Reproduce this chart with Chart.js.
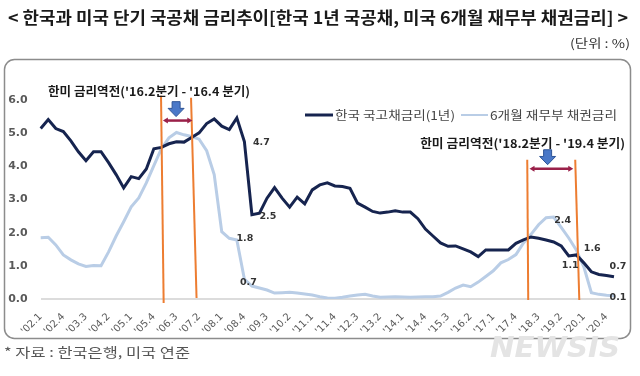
<!DOCTYPE html>
<html>
<head>
<meta charset="utf-8">
<script src="https://cdn.jsdelivr.net/npm/chart.js@4.4.1/dist/chart.umd.min.js"></script>
<style>
  body { margin: 0; background: #fff; }
</style>
</head>
<body>
<canvas id="myChart" width="640" height="376"></canvas>
<script>
// quarters from '02.1 to '21.1
const quarters = [];
for (let y = 2; y <= 21; y++) {
    for (let q = 1; q <= 4; q++) quarters.push("'" + String(y).padStart(2, '0') + '.' + q);
}
quarters.length = 77;

// 한국 국고채금리(1년)
const koreaRate = [
    5.14, 5.41, 5.14, 5.05, 4.77, 4.44, 4.17, 4.44, 4.44, 4.11,
    3.75, 3.35, 3.69, 3.63, 3.92, 4.53, 4.57, 4.68, 4.74, 4.73,
    4.87, 5.01, 5.29, 5.43, 5.21, 5.11, 5.46, 4.75, 2.54, 2.59,
    3.04, 3.36, 3.04, 2.77, 3.07, 2.87, 3.29, 3.44, 3.50, 3.41,
    3.39, 3.34, 2.89, 2.77, 2.64, 2.59, 2.62, 2.66, 2.62, 2.62,
    2.42, 2.11, 1.90, 1.69, 1.59, 1.60, 1.51, 1.42, 1.28, 1.48,
    1.48, 1.48, 1.48, 1.68, 1.78, 1.87, 1.83, 1.78, 1.72, 1.60,
    1.30, 1.33, 1.09, 0.82, 0.74, 0.71, 0.67
];

// 6개월 재무부 채권금리
const usRate = [
    1.85, 1.86, 1.63, 1.33, 1.18, 1.06, 0.98, 1.01, 1.00, 1.42,
    1.90, 2.33, 2.78, 3.05, 3.50, 4.02, 4.53, 4.86, 5.02, 4.95,
    4.90, 4.82, 4.47, 3.75, 2.03, 1.83, 1.78, 0.60, 0.39, 0.33,
    0.27, 0.18, 0.19, 0.20, 0.18, 0.15, 0.12, 0.07, 0.03, 0.02,
    0.05, 0.09, 0.12, 0.14, 0.09, 0.05, 0.06, 0.07, 0.06, 0.05,
    0.06, 0.07, 0.07, 0.09, 0.20, 0.33, 0.42, 0.37, 0.51, 0.68,
    0.85, 1.09, 1.19, 1.34, 1.69, 1.95, 2.24, 2.45, 2.47, 2.16,
    1.84, 1.48, 0.97, 0.19, 0.14, 0.11, 0.10
];

const seriesNames = ['한국 국고채금리(1년)', '6개월 재무부 채권금리'];

// value labels: [series, quarter index, text]
const valueLabels = [
    [0, 27, '4.7'], [0, 28, '2.5'], [1, 26, '1.8'], [1, 27, '0.7'],
    [1, 68, '2.4'], [1, 71, '1.6'], [0, 71, '1.1'], [0, 76, '0.7'], [1, 76, '0.1']
];

// inversion periods
const inversionTexts = ["한미 금리역전('16.2분기 - '16.4 분기)", "한미 금리역전('18.2분기 - '19.4 분기)"];

const titleText = '< 한국과 미국 단기 국공채 금리추이[한국 1년 국공채, 미국 6개월 재무부 채권금리] >';
const unitText = '(단위 : %)';
const sourceText = '* 자료 : 한국은행, 미국 연준';

const navy = '#16244f';
const lightBlue = '#b9cde6';
const orange = '#ed7d31';

function fitText(c, text, x, y, w) {
    const m = c.measureText(text).width;
    c.save();
    c.translate(x, y);
    c.scale(w / m, 1);
    c.textAlign = 'left';
    c.fillText(text, 0, 0);
    c.restore();
}

function xAt(chart, i) {
    const s = chart.scales.x;
    const p0 = s.getPixelForValue(0), p1 = s.getPixelForValue(quarters.length - 1);
    return p0 + (p1 - p0) * i / (quarters.length - 1);
}
function yAt(chart, v) {
    return chart.scales.y.getPixelForValue(v);
}

function hArrow(c, x1, x2, y) {
    c.strokeStyle = '#9a2049';
    c.fillStyle = '#9a2049';
    c.lineWidth = 2.5;
    c.beginPath(); c.moveTo(x1 + 3, y); c.lineTo(x2 - 3, y); c.stroke();
    c.beginPath(); c.moveTo(x1, y); c.lineTo(x1 + 5, y - 3); c.lineTo(x1 + 5, y + 3); c.closePath(); c.fill();
    c.beginPath(); c.moveTo(x2, y); c.lineTo(x2 - 5, y - 3); c.lineTo(x2 - 5, y + 3); c.closePath(); c.fill();
}

function downArrow(c, cx, top, bottom) {
    const h = bottom - top;
    c.fillStyle = '#4a78c8';
    c.strokeStyle = '#2f5597';
    c.lineWidth = 1;
    c.beginPath();
    c.moveTo(cx - 4, top);
    c.lineTo(cx + 4, top);
    c.lineTo(cx + 4, top + h * 0.45);
    c.lineTo(cx + 8, top + h * 0.45);
    c.lineTo(cx, bottom);
    c.lineTo(cx - 8, top + h * 0.45);
    c.lineTo(cx - 4, top + h * 0.45);
    c.closePath();
    c.fill();
    c.stroke();
}

const decor = {
    id: 'decor',
    beforeDraw(chart) {
        const c = chart.ctx;
        c.save();
        c.fillStyle = '#fff';
        c.fillRect(0, 0, chart.width, chart.height);
        c.strokeStyle = '#8c8c8c';
        c.lineWidth = 1.5;
        c.beginPath();
        c.roundRect(4.5, 59.5, 626, 279, 10);
        c.stroke();

        c.textBaseline = 'middle';
        c.fillStyle = '#1a1a1a';
        c.font = 'bold 17px "Noto Sans CJK KR"';
        fitText(c, titleText, 8, 18, 620);
        c.fillStyle = '#333';
        c.font = '12px "Noto Sans CJK KR"';
        fitText(c, unitText, 570, 43, 60);
        c.fillStyle = '#555';
        c.font = '13px "Noto Sans CJK KR"';
        fitText(c, sourceText, 4, 352, 186);
        c.fillStyle = '#e4e4e4';
        c.font = 'italic bold 28px "DejaVu Sans"';
        fitText(c, 'NEWSIS', 490, 350, 130);
        c.restore();
    },
    afterDatasetsDraw(chart) {
        const c = chart.ctx;
        c.save();

        // inversion boundaries
        const vlines = [
            [15.95, 6.13, 16.3, -0.12], [19.93, 6.07, 20.66, 0.03],
            [64.5, 4.2, 64.63, -0.03], [70.86, 4.2, 71.4, -0.03]
        ];
        c.strokeStyle = orange;
        c.lineWidth = 2;
        vlines.forEach(([i1, v1, i2, v2]) => {
            c.beginPath();
            c.moveTo(xAt(chart, i1), yAt(chart, v1));
            c.lineTo(xAt(chart, i2), yAt(chart, v2));
            c.stroke();
        });

        hArrow(c, xAt(chart, 16.2), xAt(chart, 20.1), yAt(chart, 5.38));
        hArrow(c, xAt(chart, 64.8), xAt(chart, 70.6), yAt(chart, 3.93));
        downArrow(c, xAt(chart, 17.95), yAt(chart, 5.95), yAt(chart, 5.5));
        downArrow(c, xAt(chart, 67.2), yAt(chart, 4.5), yAt(chart, 4.05));

        c.textBaseline = 'middle';
        c.fillStyle = '#1a1a1a';
        c.font = 'bold 12px "Noto Sans CJK KR"';
        fitText(c, inversionTexts[0], xAt(chart, 0.97), yAt(chart, 6.25), 202);
        fitText(c, inversionTexts[1], xAt(chart, 50.3), yAt(chart, 4.7), 205);

        // legend
        c.lineWidth = 3;
        c.strokeStyle = navy;
        c.beginPath(); c.moveTo(305, 115); c.lineTo(333, 115); c.stroke();
        c.strokeStyle = lightBlue;
        c.lineWidth = 2;
        c.beginPath(); c.moveTo(461, 115); c.lineTo(488, 115); c.stroke();
        c.fillStyle = '#444';
        c.font = '12px "Noto Sans CJK KR"';
        fitText(c, seriesNames[0], 335, 115, 120);
        fitText(c, seriesNames[1], 490, 115, 127);

        // value labels
        const offs = [[17, 1], [16, 2], [8, -1], [4, 3], [9, 3], [16, -1], [-6, 11], [4, -10], [4, 2]];
        c.fillStyle = '#333';
        c.font = 'bold 9.5px "DejaVu Sans"';
        c.textAlign = 'center';
        valueLabels.forEach(([s, i, t], k) => {
            const meta = chart.getDatasetMeta(s).data[i];
            c.fillText(t, meta.x + offs[k][0], meta.y + offs[k][1]);
        });
        c.restore();
    }
};

window.addEventListener('load', () => {
    const ctx = document.getElementById('myChart').getContext('2d');
    new Chart(ctx, {
        type: 'line',
        data: {
            labels: quarters,
            datasets: [
                { label: seriesNames[0], data: koreaRate, borderColor: navy, borderWidth: 3, pointRadius: 0, tension: 0 },
                { label: seriesNames[1], data: usRate, borderColor: lightBlue, borderWidth: 3, pointRadius: 0, tension: 0 }
            ]
        },
        options: {
            responsive: false,
            animation: false,
            layout: { padding: { left: 5, right: 26, top: 100, bottom: 37 } },
            plugins: { legend: { display: false }, tooltip: { enabled: false } },
            scales: {
                x: {
                    grid: { display: false },
                    border: { display: false },
                    ticks: {
                        autoSkip: false,
                        minRotation: 45,
                        maxRotation: 45,
                        padding: 4,
                        color: '#595959',
                        font: { family: 'DejaVu Sans', size: 10 },
                        callback: (v, i) => (i % 3 === 0 ? quarters[i] : null)
                    },
                    afterFit: s => { s.height = 40; }
                },
                y: {
                    min: 0,
                    max: 6,
                    border: { display: false },
                    grid: {
                        drawTicks: false,
                        lineWidth: 2,
                        color: g => (g.tick && g.tick.value === 0 ? '#dcdcdc' : 'rgba(0,0,0,0)')
                    },
                    ticks: {
                        stepSize: 1,
                        padding: 13,
                        color: '#595959',
                        font: { family: 'DejaVu Sans', size: 11, weight: 'bold' },
                        callback: v => v.toFixed(1)
                    },
                    afterFit: s => { s.width = 35.7; }
                }
            }
        },
        plugins: [decor]
    });
});
</script>
</body>
</html>
